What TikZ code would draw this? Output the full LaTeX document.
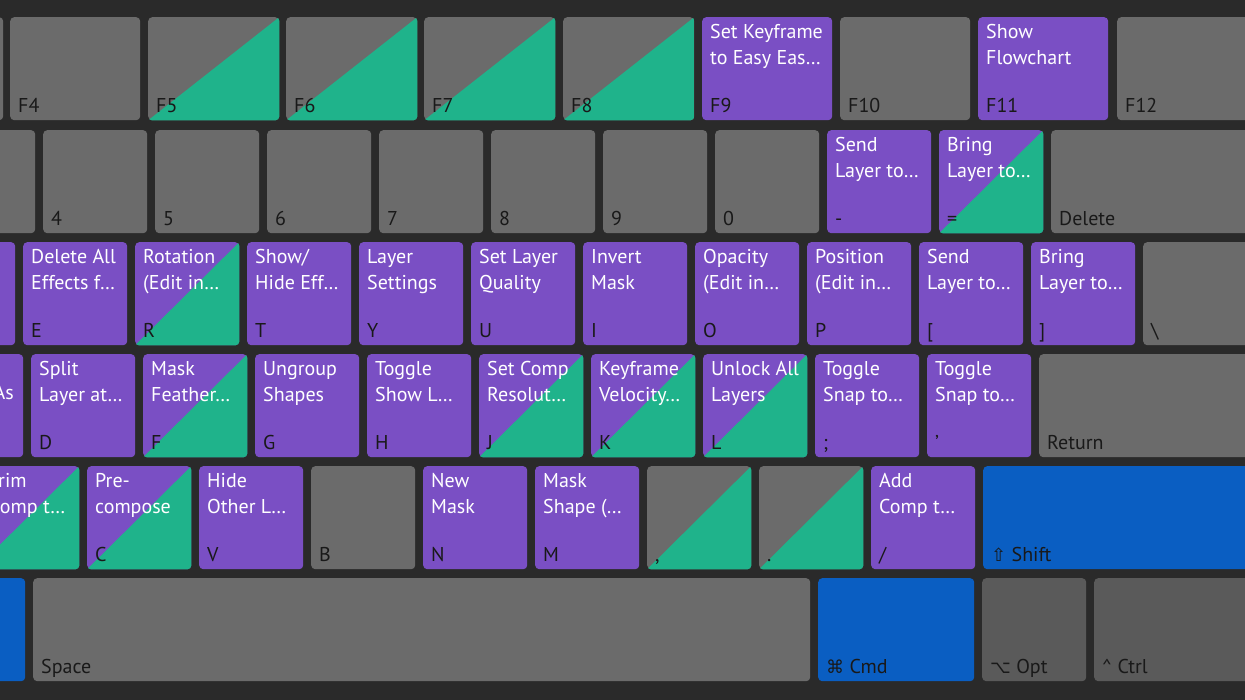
\documentclass[tikz,border=0pt]{standalone}
\usepackage{fontspec}
\setmainfont{PT Sans}
\newfontfamily\symfont{DejaVu Sans}
\definecolor{kbg}{HTML}{2A2A2A}
\definecolor{kgray}{HTML}{6B6B6B}
\definecolor{kdark}{HTML}{5A5A5A}
\definecolor{kpurple}{HTML}{7A4FC4}
\definecolor{kgreen}{HTML}{1FB38B}
\definecolor{kblue}{HTML}{0A5EC2}

% name, x, y, width, fill, split, top label, key label
\newcommand{\kbkey}[8]{%
  \node[key, fill=#5, minimum width=#4pt] (#1) at (#2,#3) {};
  \ifnum#6=1
    \begin{scope}
      \clip[rounded corners=4pt] (#1.south west) rectangle (#1.north east);
      \fill[kgreen] (#1.south west) -- (#1.north east) -- (#1.south east) -- cycle;
    \end{scope}
  \fi
  \node[toplabel] at ([xshift=8pt,yshift=-7pt]#1.north west) {#7};
  \node[botlabel] at ([xshift=8pt,yshift=8pt]#1.south west) {#8};%
}

\begin{document}
\begin{tikzpicture}[x=1pt, y=-1pt,
    key/.style = {rectangle, rounded corners=4pt, inner sep=0pt, minimum height=103pt, anchor=north west},
    toplabel/.style = {anchor=north west, inner sep=0pt, align=left, text=white, font=\fontsize{20}{26}\selectfont},
    botlabel/.style = {anchor=base west, inner sep=0pt, text=black!90, font=\fontsize{20}{26}\selectfont},
    sym/.style = {font=\symfont\fontsize{18}{20}\selectfont}
  ]
  \fill[kbg] (0,0) rectangle (1245,700);
  \clip (0,0) rectangle (1245,700);

  % function row
  \kbkey{f3}{-128}{17}{131}{kgray}{0}{}{}
  \kbkey{f4}{10}{17}{130}{kgray}{0}{}{F4}
  \kbkey{f5}{148}{17}{131}{kgray}{1}{}{F5}
  \kbkey{f6}{286}{17}{131}{kgray}{1}{}{F6}
  \kbkey{f7}{424}{17}{131}{kgray}{1}{}{F7}
  \kbkey{f8}{563}{17}{131}{kgray}{1}{}{F8}
  \kbkey{f9}{702}{17}{130}{kpurple}{0}{Set Keyframe\\to Easy Eas…}{F9}
  \kbkey{f10}{840}{17}{130}{kgray}{0}{}{F10}
  \kbkey{f11}{978}{17}{130}{kpurple}{0}{Show\\Flowchart}{F11}
  \kbkey{f12}{1117}{17}{140}{kgray}{0}{}{F12}

  % number row
  \kbkey{k3}{-69}{130}{104}{kgray}{0}{}{}
  \kbkey{k4}{43}{130}{104}{kgray}{0}{}{4}
  \kbkey{k5}{155}{130}{104}{kgray}{0}{}{5}
  \kbkey{k6}{267}{130}{104}{kgray}{0}{}{6}
  \kbkey{k7}{379}{130}{104}{kgray}{0}{}{7}
  \kbkey{k8}{491}{130}{104}{kgray}{0}{}{8}
  \kbkey{k9}{603}{130}{104}{kgray}{0}{}{9}
  \kbkey{k0}{715}{130}{104}{kgray}{0}{}{0}
  \kbkey{minus}{827}{130}{104}{kpurple}{0}{Send\\Layer to…}{-}
  \kbkey{equal}{939}{130}{104}{kpurple}{1}{Bring\\Layer to…}{=}
  \kbkey{delete}{1051}{130}{200}{kgray}{0}{}{Delete}

  % top letter row
  \kbkey{w}{-89}{242}{104}{kpurple}{0}{}{}
  \kbkey{e}{23}{242}{104}{kpurple}{0}{Delete All\\Effects f…}{E}
  \kbkey{r}{135}{242}{104}{kpurple}{1}{Rotation\\(Edit in…}{R}
  \kbkey{t}{247}{242}{104}{kpurple}{0}{Show/\\Hide Eff…}{T}
  \kbkey{y}{359}{242}{104}{kpurple}{0}{Layer\\Settings}{Y}
  \kbkey{u}{471}{242}{104}{kpurple}{0}{Set Layer\\Quality}{U}
  \kbkey{i}{583}{242}{104}{kpurple}{0}{Invert\\Mask}{I}
  \kbkey{o}{695}{242}{104}{kpurple}{0}{Opacity\\(Edit in…}{O}
  \kbkey{p}{807}{242}{104}{kpurple}{0}{Position\\(Edit in…}{P}
  \kbkey{lbrack}{919}{242}{104}{kpurple}{0}{Send\\Layer to…}{[}
  \kbkey{rbrack}{1031}{242}{104}{kpurple}{0}{Bring\\Layer to…}{]}
  \kbkey{bslash}{1143}{242}{110}{kgray}{0}{}{\textbackslash}

  % home row
  \kbkey{s}{-81}{354}{104}{kpurple}{0}{}{}
  \node[botlabel, anchor=base east, text=white] (sas) at (14,400) {As};
  \kbkey{d}{31}{354}{104}{kpurple}{0}{Split\\Layer at…}{D}
  \kbkey{f}{143}{354}{104}{kpurple}{1}{Mask\\Feather…}{F}
  \kbkey{g}{255}{354}{104}{kpurple}{0}{Ungroup\\Shapes}{G}
  \kbkey{h}{367}{354}{104}{kpurple}{0}{Toggle\\Show L…}{H}
  \kbkey{j}{479}{354}{104}{kpurple}{1}{Set Comp\\Resolut…}{J}
  \kbkey{k}{591}{354}{104}{kpurple}{1}{Keyframe\\Velocity…}{K}
  \kbkey{l}{703}{354}{104}{kpurple}{1}{Unlock All\\Layers}{L}
  \kbkey{semi}{815}{354}{104}{kpurple}{0}{Toggle\\Snap to…}{;}
  \kbkey{quote}{927}{354}{104}{kpurple}{0}{Toggle\\Snap to…}{'}
  \kbkey{return}{1039}{354}{210}{kgray}{0}{}{Return}

  % bottom letter row
  \kbkey{x}{-25}{466}{104}{kpurple}{1}{}{}
  \node[toplabel] (xtrim) at ([xshift=14pt,yshift=-7pt]x.north west) {Trim\\Comp t…};
  \kbkey{c}{87}{466}{104}{kpurple}{1}{Pre-\\compose}{C}
  \kbkey{v}{199}{466}{104}{kpurple}{0}{Hide\\Other L…}{V}
  \kbkey{b}{311}{466}{104}{kgray}{0}{}{B}
  \kbkey{n}{423}{466}{104}{kpurple}{0}{New\\Mask}{N}
  \kbkey{m}{535}{466}{104}{kpurple}{0}{Mask\\Shape (…}{M}
  \kbkey{comma}{647}{466}{104}{kgray}{1}{}{,}
  \kbkey{period}{759}{466}{104}{kgray}{1}{}{.}
  \kbkey{slash}{871}{466}{104}{kpurple}{0}{Add\\Comp t…}{/}
  \kbkey{shift}{983}{466}{270}{kblue}{0}{}{{\symfont\fontsize{18}{20}\selectfont ⇧} Shift}

  % space row
  \kbkey{lcmd}{-130}{578}{155}{kblue}{0}{}{}
  \kbkey{space}{33}{578}{777}{kgray}{0}{}{Space}
  \kbkey{cmd}{818}{578}{156}{kblue}{0}{}{{\symfont\fontsize{18}{20}\selectfont ⌘} Cmd}
  \kbkey{opt}{982}{578}{104}{kdark}{0}{}{{\symfont\fontsize{18}{20}\selectfont ⌥} Opt}
  \kbkey{ctrl}{1094}{578}{160}{kdark}{0}{}{\^{} Ctrl}
\end{tikzpicture}
\end{document}
